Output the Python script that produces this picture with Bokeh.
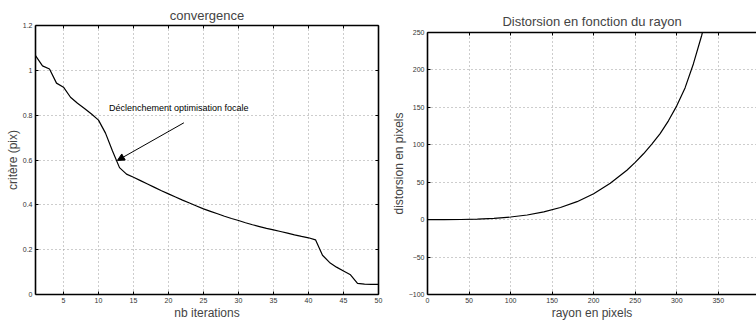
from bokeh.plotting import figure
from bokeh.layouts import row, column
from bokeh.models import (Range1d, FixedTicker, LinearAxis, Arrow, NormalHead, Label)
from bokeh.embed import file_html
from bokeh.resources import INLINE

# ---- data: convergence ----
iterations = list(range(1, 51))
critere = [1.066, 1.020, 1.006, 0.943, 0.925, 0.880, 0.853, 0.830, 0.805, 0.778,
           0.720, 0.640, 0.566, 0.537, 0.523, 0.508, 0.493, 0.478, 0.463, 0.449,
           0.435, 0.421, 0.408, 0.395, 0.382, 0.371, 0.360, 0.349, 0.339, 0.330,
           0.320, 0.311, 0.303, 0.295, 0.288, 0.281, 0.274, 0.266, 0.259, 0.253,
           0.244, 0.175, 0.143, 0.122, 0.105, 0.088, 0.050, 0.046, 0.045, 0.045]
conv_xticks = [5, 10, 15, 20, 25, 30, 35, 40, 45, 50]
conv_yticks = [0, 0.2, 0.4, 0.6, 0.8, 1.0, 1.2]
annot_text = "Déclenchement optimisation focale"
annot_pos = (11.5, 0.83)
arrow_from = (22.2, 0.766)
arrow_to = (12.7, 0.598)

# ---- data: distortion ----
rayon = [0, 20, 40, 60, 80, 100, 120, 140, 160, 180, 200, 220, 240, 250, 260, 270,
         280, 290, 300, 310, 320, 330, 340]
distorsion = [0, 0.03, 0.2, 0.7, 1.7, 3.5, 6.2, 10.3, 16.2, 24, 34.7, 48.5, 66, 76.5,
              88, 101, 115, 132, 152, 176, 208, 246, 290]
dist_xticks = [0, 50, 100, 150, 200, 250, 300, 350, 400]
dist_yticks = [-100, -50, 0, 50, 100, 150, 200, 250]

FONT = "Liberation Sans"
GRID = "#9a9a9a"


def style(p, xticks, yticks, title_size, label_size, title_standoff):
    p.title.text_font = FONT
    p.title.text_font_size = title_size
    p.title.text_font_style = "normal"
    p.title.align = "center"
    p.title.standoff = title_standoff
    p.outline_line_color = None
    for ax in p.xaxis + p.yaxis:
        ax.axis_line_width = 1.6
        ax.axis_line_color = "black"
        ax.major_tick_in = 3
        ax.major_tick_out = 0
        ax.minor_tick_line_color = None
        ax.major_tick_line_width = 1
        ax.major_label_text_font = FONT
        ax.major_label_text_font_size = "7px"
        ax.major_label_text_color = "#333333"
        ax.axis_label_text_font = FONT
        ax.axis_label_text_font_size = label_size
        ax.axis_label_text_font_style = "normal"
        ax.axis_label_standoff = 0
        ax.major_label_standoff = 3
    p.xaxis.ticker = FixedTicker(ticks=xticks)
    p.yaxis.ticker = FixedTicker(ticks=yticks)
    p.xgrid.ticker = FixedTicker(ticks=xticks)
    p.ygrid.ticker = FixedTicker(ticks=yticks)
    for g in (p.xgrid, p.ygrid):
        g.grid_line_color = GRID
        g.grid_line_dash = "1 3"
        g.grid_line_width = 1


def box_axis(p, side, ticks):
    ax = LinearAxis(ticker=FixedTicker(ticks=ticks))
    ax.axis_line_width = 1.6
    ax.axis_line_color = "black"
    ax.major_tick_in = 3
    ax.major_tick_out = 0
    ax.minor_tick_line_color = None
    ax.major_label_text_font_size = "1px"
    ax.major_label_text_color = None
    ax.major_label_standoff = 0
    p.add_layout(ax, side)


# ---- left figure ----
p1 = figure(width=385, height=323, output_backend="svg", toolbar_location=None,
            title="convergence", x_range=Range1d(1, 50), y_range=Range1d(0, 1.2),
            min_border_left=35, min_border_right=7, min_border_top=25, min_border_bottom=29)
style(p1, conv_xticks, conv_yticks, "13px", "12px", 5)
p1.xaxis.axis_label = "nb iterations"
p1.yaxis.axis_label = "critère (pix)"
p1.yaxis.major_label_overrides = {0: "0", 1: "1"}
box_axis(p1, "above", conv_xticks)
box_axis(p1, "right", conv_yticks)
p1.line(iterations, critere, line_color="black", line_width=1.2)
p1.add_layout(Label(x=annot_pos[0], y=annot_pos[1], text=annot_text, text_font=FONT,
                    text_font_size="9px", text_baseline="middle", text_color="black"))
p1.add_layout(Arrow(end=NormalHead(size=7, fill_color="black", line_color="black"),
                    x_start=arrow_from[0], y_start=arrow_from[1],
                    x_end=arrow_to[0], y_end=arrow_to[1], line_width=1, line_color="black"))

# ---- right figure ----
p2 = figure(width=371, height=323, output_backend="svg", toolbar_location=None,
            title="Distorsion en fonction du rayon", x_range=Range1d(0, 396),
            y_range=Range1d(-100, 250),
            min_border_left=42, min_border_right=0, min_border_top=32, min_border_bottom=29)
style(p2, dist_xticks, dist_yticks, "13px", "12px", 7)
p2.xaxis.axis_label = "rayon en pixels"
p2.yaxis.axis_label = "distorsion en pixels"
p2.yaxis.major_label_overrides = {-100: "\u2212100", -50: "\u221250"}
box_axis(p2, "above", dist_xticks)
p2.line(rayon, distorsion, line_color="black", line_width=1.2)

layout = row(column(p1), column(p2))
open("out.html", "w").write(file_html(layout, INLINE))
